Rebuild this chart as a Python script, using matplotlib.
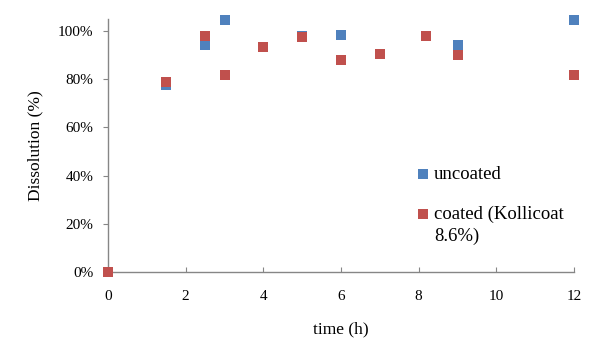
import matplotlib.pyplot as plt
from matplotlib.ticker import PercentFormatter
from matplotlib.transforms import IdentityTransform

# dissolution data
time_uncoated = [0, 1.5, 2.5, 3, 4, 5, 6, 7, 8.2, 9, 12]
uncoated = [0, 77.6, 94.2, 104.6, 93.5, 98.0, 98.3, 90.3, 98.0, 94.0, 104.6]
time_coated = [0, 1.5, 2.5, 3, 4, 5, 6, 7, 8.2, 9, 12]
coated = [0, 78.7, 98.0, 81.6, 93.5, 97.4, 87.8, 90.3, 98.0, 90.0, 81.6]

plt.rcParams['font.family'] = ['Liberation Serif', 'DejaVu Serif']

fig = plt.figure(figsize=(6.02, 3.62), dpi=100)
ax = fig.add_axes([0.1794, 0.2486, 0.7741, 0.6991])

ax.scatter(time_uncoated, uncoated, marker='s', s=44, color='#4F81BD',
           label='uncoated', zorder=3, clip_on=False, linewidths=0)
ax.scatter(time_coated, coated, marker='s', s=44, color='#C0504D',
           label='coated (Kollicoat', zorder=4, clip_on=False, linewidths=0)

ax.set_xlim(0, 12)
ax.set_ylim(0, 105)
ax.set_xticks(range(0, 13, 2))
ax.set_yticks(range(0, 101, 20))
ax.yaxis.set_major_formatter(PercentFormatter(decimals=0))

for side in ['top', 'right']:
    ax.spines[side].set_visible(False)
for side in ['left', 'bottom']:
    ax.spines[side].set_color('#868686')
    ax.spines[side].set_linewidth(1)

ax.tick_params(axis='x', direction='in', length=3.6, color='#868686',
               labelsize=11, pad=13)
ax.tick_params(axis='y', direction='out', length=3.6, color='#868686',
               labelsize=11, pad=7)

ax.set_xlabel('time (h)', fontsize=12.5, labelpad=13)
ax.set_ylabel('Dissolution (%)', fontsize=12.5, labelpad=10)

# legend anchored in figure pixels (origin bottom left)
px = IdentityTransform()
leg = fig.legend(loc='upper left', bbox_to_anchor=(418, 362 - 166),
                 bbox_transform=px, frameon=False, fontsize=13.5,
                 handletextpad=0.27, labelspacing=1.2, borderpad=0,
                 borderaxespad=0, handlelength=0.58, markerscale=1.0)

# second line of the coated label, placed under its first line
fig.canvas.draw()
first = leg.get_texts()[1].get_window_extent()
fig.text(first.x0, first.y0 - 5, '8.6%)', fontsize=13.5,
         ha='left', va='top', transform=px)

fig.savefig('out.png', dpi=100)
